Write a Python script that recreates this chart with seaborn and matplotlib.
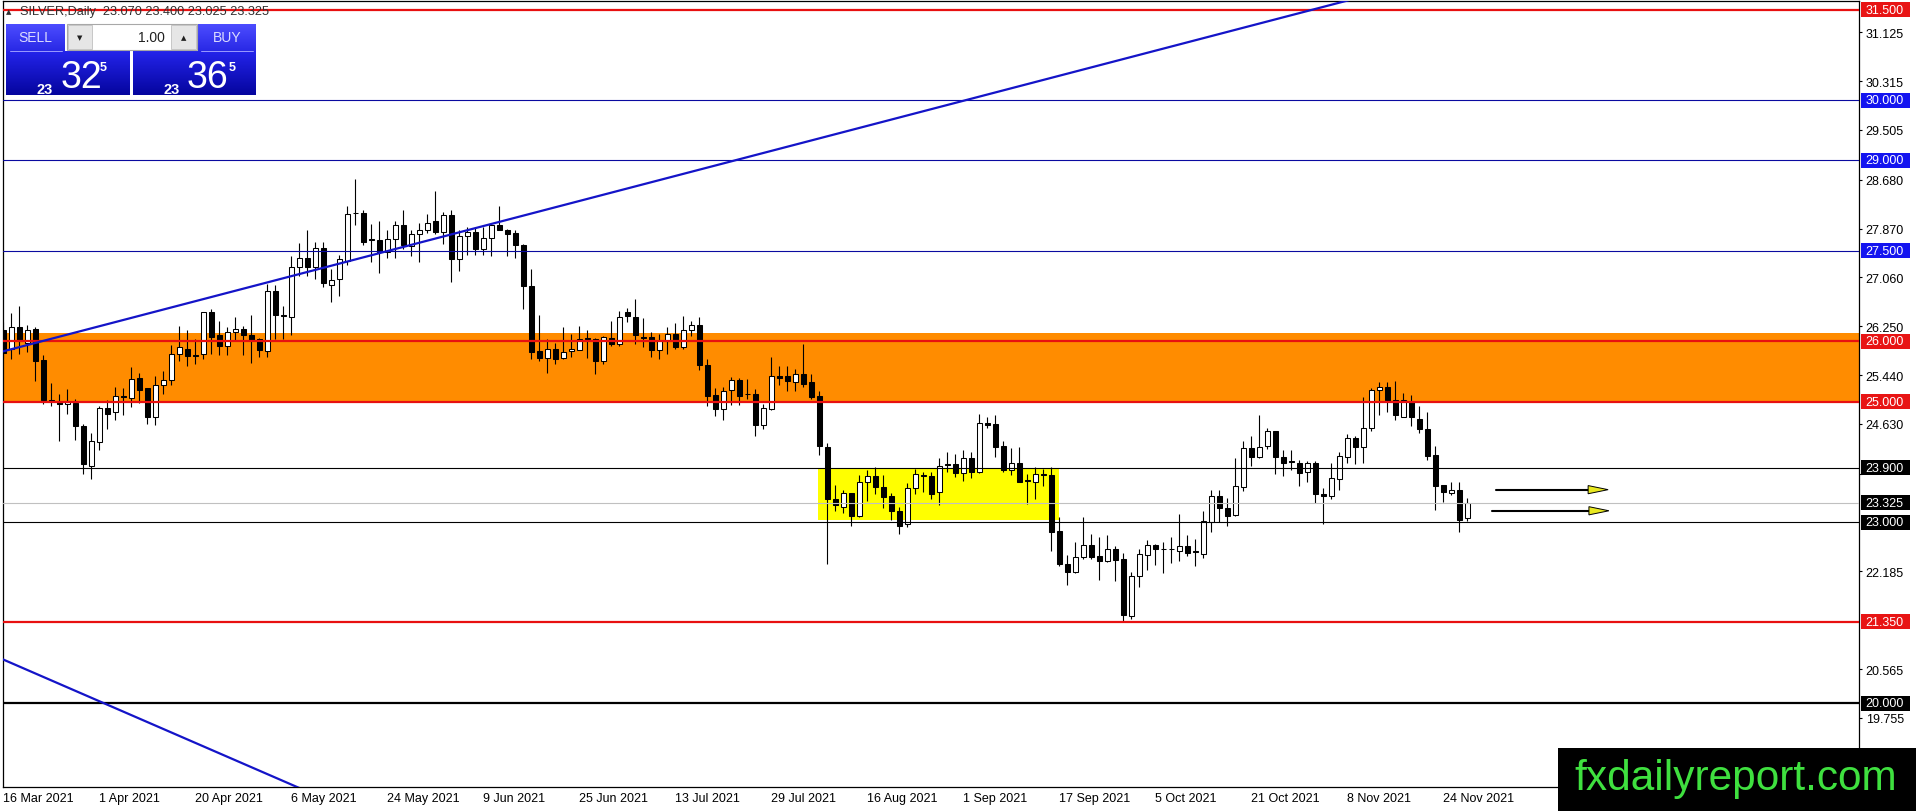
import numpy as np
import pandas as pd
import seaborn as sns
import matplotlib.pyplot as plt
from matplotlib.patches import Rectangle, Polygon

# daily bars, one label every 12 bars
date_labels = ["16 Mar 2021", "1 Apr 2021", "20 Apr 2021", "6 May 2021", "24 May 2021",
               "9 Jun 2021", "25 Jun 2021", "13 Jul 2021", "29 Jul 2021", "16 Aug 2021",
               "1 Sep 2021", "17 Sep 2021", "5 Oct 2021", "21 Oct 2021", "8 Nov 2021",
               "24 Nov 2021"]

opens = [26.18, 25.87, 26.23, 25.98, 26.20, 25.69, 25.03, 24.99, 24.96, 24.98,
         24.59, 23.94, 24.33, 24.90, 24.82, 25.09, 25.06, 25.39, 25.22, 24.74,
         25.27, 25.36, 25.79, 25.87, 25.78, 25.79, 26.48, 26.10, 25.92, 26.15,
         26.21, 26.10, 26.04, 25.84, 26.84, 26.44, 26.40, 27.23, 27.38, 27.23,
         27.54, 26.94, 27.03, 27.34, 28.12, 28.13, 27.70, 27.68, 27.48, 27.69,
         27.93, 27.58, 27.78, 27.85, 27.99, 27.82, 28.10, 27.36, 27.74, 27.82,
         27.53, 27.71, 27.93, 27.85, 27.80, 27.60, 26.91, 25.84, 25.72, 25.88,
         25.73, 25.84, 25.86, 26.04, 26.04, 25.68, 26.05, 25.95, 26.48, 26.40,
         26.08, 26.07, 25.86, 26.01, 26.12, 25.91, 26.18, 26.27, 25.61, 25.11,
         24.87, 25.19, 25.36, 25.12, 25.12, 24.62, 24.87, 25.43, 25.42, 25.32,
         25.45, 25.32, 25.09, 24.24, 23.38, 23.26, 23.48, 23.10, 23.66, 23.76,
         23.58, 23.43, 23.18, 22.97, 23.56, 23.78, 23.76, 23.50, 23.95, 23.96,
         23.82, 24.06, 23.84, 24.64, 24.63, 24.26, 23.87, 23.98, 23.70, 23.67,
         23.78, 23.78, 22.86, 22.31, 22.18, 22.42, 22.62, 22.44, 22.35, 22.56,
         22.39, 21.45, 22.10, 22.46, 22.62, 22.55, 22.55, 22.53, 22.60, 22.52,
         22.47, 23.01, 23.44, 23.24, 23.12, 23.59, 24.23, 24.09, 24.26, 24.51,
         24.09, 24.00, 23.99, 23.83, 23.98, 23.46, 23.44, 23.72, 24.08, 24.39,
         24.24, 24.57, 25.19, 25.25, 25.02, 24.75, 24.99, 24.72, 24.55, 24.12,
         23.61, 23.49, 23.53, 23.07]

highs = [26.32, 26.47, 26.59, 26.27, 26.23, 25.77, 25.31, 25.13, 25.21, 25.05,
         24.63, 24.48, 24.93, 25.03, 25.24, 25.22, 25.57, 25.47, 25.23, 25.42,
         25.51, 25.94, 26.26, 26.18, 26.04, 26.49, 26.54, 26.34, 26.23, 26.40,
         26.26, 26.43, 26.05, 26.95, 26.93, 26.59, 27.41, 27.63, 27.84, 27.64,
         27.64, 27.20, 27.43, 28.25, 28.69, 28.17, 27.95, 28.00, 27.84, 27.99,
         28.17, 27.85, 27.97, 28.11, 28.50, 28.15, 28.18, 27.84, 27.89, 27.89,
         27.89, 27.97, 28.25, 27.86, 27.84, 27.61, 27.20, 26.44, 26.04, 25.98,
         26.23, 26.12, 26.25, 26.18, 26.05, 26.09, 26.34, 26.51, 26.56, 26.71,
         26.38, 26.16, 26.12, 26.23, 26.30, 26.42, 26.33, 26.40, 25.71, 25.22,
         25.25, 25.41, 25.39, 25.38, 25.21, 24.96, 25.74, 25.59, 25.59, 25.54,
         25.96, 25.46, 25.17, 24.31, 23.61, 23.54, 23.49, 23.78, 23.86, 23.91,
         23.78, 23.48, 23.26, 23.65, 23.89, 23.84, 23.84, 24.06, 24.16, 24.13,
         24.20, 24.17, 24.80, 24.74, 24.77, 24.35, 24.23, 24.24, 23.80, 23.91,
         23.88, 23.91, 23.08, 22.46, 22.67, 23.08, 22.81, 22.75, 22.78, 22.61,
         22.49, 22.18, 22.55, 22.71, 22.64, 22.68, 22.76, 23.14, 22.78, 22.72,
         23.18, 23.54, 23.54, 23.40, 24.06, 24.35, 24.43, 24.78, 24.57, 24.52,
         24.19, 24.19, 24.03, 24.02, 24.02, 23.56, 23.98, 24.16, 24.46, 24.43,
         25.08, 25.22, 25.32, 25.33, 25.34, 25.14, 25.11, 24.92, 24.83, 24.26,
         23.62, 23.67, 23.66, 23.40]

lows = [25.72, 25.70, 25.79, 25.82, 25.35, 24.96, 24.92, 24.34, 24.80, 24.37,
        23.80, 23.71, 24.19, 24.54, 24.70, 24.78, 24.91, 24.98, 24.63, 24.61,
        25.13, 25.27, 25.68, 25.59, 25.63, 25.70, 25.79, 25.77, 25.77, 26.00,
        25.77, 25.64, 25.74, 25.74, 26.04, 26.04, 26.11, 27.08, 27.09, 27.03,
        26.90, 26.66, 26.76, 27.27, 27.93, 27.59, 27.31, 27.13, 27.38, 27.38,
        27.53, 27.42, 27.32, 27.80, 27.78, 27.61, 26.98, 27.16, 27.43, 27.43,
        27.43, 27.41, 27.84, 27.41, 27.38, 26.54, 25.70, 25.68, 25.48, 25.62,
        25.71, 25.74, 25.85, 25.72, 25.46, 25.62, 25.93, 25.92, 26.32, 25.96,
        25.90, 25.74, 25.71, 25.79, 25.87, 25.88, 26.09, 25.53, 24.93, 24.76,
        24.69, 24.94, 24.94, 25.04, 24.43, 24.54, 24.86, 25.28, 25.18, 25.18,
        25.25, 25.04, 24.12, 22.30, 23.18, 23.15, 22.94, 23.08, 23.36, 23.47,
        23.23, 23.03, 22.81, 22.92, 23.47, 23.50, 23.38, 23.28, 23.84, 23.75,
        23.69, 23.73, 23.82, 24.57, 24.09, 23.84, 23.78, 23.66, 23.30, 23.38,
        23.60, 22.53, 22.27, 21.96, 22.16, 22.39, 22.39, 22.05, 22.34, 22.03,
        21.37, 21.40, 21.93, 22.21, 22.29, 22.16, 22.33, 22.36, 22.44, 22.28,
        22.40, 22.83, 23.01, 22.94, 23.10, 23.51, 23.94, 24.06, 24.22, 23.80,
        23.77, 23.87, 23.60, 23.67, 23.32, 22.97, 23.39, 23.54, 23.98, 23.96,
        23.99, 24.52, 24.78, 24.83, 24.70, 24.74, 24.60, 24.48, 24.04, 23.21,
        23.33, 23.45, 22.84, 23.025]

closes = [25.80, 26.23, 26.01, 26.18, 25.68, 25.02, 25.01, 24.96, 24.99, 24.59,
          23.96, 24.34, 24.90, 24.80, 25.09, 25.07, 25.38, 25.20, 24.74, 25.27,
          25.36, 25.79, 25.90, 25.75, 25.76, 26.48, 26.08, 25.93, 26.16, 26.21,
          26.11, 26.03, 25.85, 26.84, 26.43, 26.42, 27.23, 27.38, 27.24, 27.54,
          26.96, 27.02, 27.37, 28.11, 28.11, 27.65, 27.68, 27.48, 27.70, 27.93,
          27.59, 27.78, 27.85, 27.96, 27.82, 28.10, 27.37, 27.74, 27.82, 27.53,
          27.71, 27.93, 27.85, 27.78, 27.59, 26.91, 25.83, 25.73, 25.88, 25.71,
          25.82, 25.87, 26.04, 26.03, 25.68, 26.07, 25.96, 26.40, 26.42, 26.11,
          26.06, 25.85, 26.01, 26.12, 25.91, 26.19, 26.27, 25.60, 25.10, 24.87,
          25.18, 25.36, 25.10, 25.11, 24.62, 24.89, 25.43, 25.40, 25.34, 25.45,
          25.29, 25.07, 24.26, 23.38, 23.28, 23.48, 23.11, 23.66, 23.76, 23.58,
          23.42, 23.18, 22.94, 23.56, 23.80, 23.76, 23.47, 23.94, 23.94, 23.81,
          24.06, 23.83, 24.65, 24.62, 24.24, 23.86, 23.98, 23.67, 23.68, 23.80,
          23.77, 22.83, 22.31, 22.18, 22.42, 22.62, 22.43, 22.35, 22.56, 22.38,
          21.46, 22.10, 22.47, 22.62, 22.56, 22.54, 22.54, 22.60, 22.49, 22.50,
          23.02, 23.44, 23.23, 23.11, 23.60, 24.23, 24.09, 24.24, 24.51, 24.09,
          23.98, 23.99, 23.81, 23.98, 23.46, 23.44, 23.73, 24.10, 24.39, 24.24,
          24.57, 25.19, 25.25, 25.02, 24.77, 25.02, 24.74, 24.54, 24.10, 23.60,
          23.50, 23.54, 23.04, 23.325]

price_ticks = [31.125, 30.315, 29.505, 28.680, 27.870, 27.060, 26.250, 25.440,
               24.630, 23.805, 22.185, 20.565, 19.755]
# 23.805 sits behind the 23.900 label box, so only its tick mark is drawn
hidden_ticks = [23.805]

red_levels = [31.5, 26.0, 25.0, 21.35]
blue_levels = [30.0, 29.0, 27.5]
black_levels = [23.9, 23.0]
round_level = 20.0
bid_price = 23.325

orange_zone = (25.0, 26.13)
yellow_zone_bars = (101.8, 132.0)
yellow_zone_prices = (23.03, 23.90)

trend_up_x = [-1, 170]
trend_up_y = [25.80, 31.72]
trend_down_x = [-1, 40]
trend_down_y = [20.78, 18.42]

arrow_x = [(186.6, 200.6), (186.1, 200.7)]
arrow_y = [23.54, 23.19]

title_text = "SILVER,Daily  23.070 23.400 23.025 23.325"
sell_quote = ("23", "32", "5")
buy_quote = ("23", "36", "5")
lot_size = "1.00"

df = pd.DataFrame({"open": opens, "high": highs, "low": lows, "close": closes})
df["bar"] = np.arange(len(df))
df["up"] = df["close"] >= df["open"]

sns.set_style("white")
plt.rcParams["font.family"] = ["Liberation Sans", "DejaVu Sans"]

W, H = 1916, 812
fig = plt.figure(figsize=(W / 100, H / 100), dpi=100)
fig.patch.set_facecolor("white")

# plot area in pixels: x 2.7..1859, y 1.7..788
ax = fig.add_axes([2.7 / W, (H - 788) / H, (1859 - 2.7) / W, (788 - 1.7) / H])
ax.set_xlim(-0.075, 231.96)
ax.set_ylim(18.609, 31.649)
ax.set_facecolor("white")
for s in ax.spines.values():
    s.set_color("black")
    s.set_linewidth(0.9)

# background zones
ax.axhspan(*orange_zone, color="#FF8C00", lw=0, zorder=1)
ax.add_patch(Rectangle((yellow_zone_bars[0], yellow_zone_prices[0]),
                       yellow_zone_bars[1] - yellow_zone_bars[0],
                       yellow_zone_prices[1] - yellow_zone_prices[0],
                       facecolor="#FFFF00", lw=0, zorder=2))

# candles
ax.vlines(df["bar"], df["low"], df["high"], color="black", lw=0.8, zorder=4)
body = (df["close"] - df["open"]).where(lambda v: v.abs() > 0.012, 0.012)
ax.bar(df["bar"], body, bottom=df["open"], width=0.56,
       color=np.where(df["up"], "white", "black"), edgecolor="black",
       linewidth=0.75, zorder=5)

# horizontal levels
for lv in red_levels:
    ax.axhline(lv, color="#E81010", lw=1.6, zorder=6)
for lv in blue_levels:
    ax.axhline(lv, color="#0A0AA0", lw=0.8, zorder=6)
for lv in black_levels:
    ax.axhline(lv, color="black", lw=0.8, zorder=6)
ax.axhline(round_level, color="black", lw=1.6, zorder=6)
ax.axhline(bid_price, color="#C0C0C0", lw=0.8, zorder=6)

# trend lines
sns.lineplot(x=trend_up_x, y=trend_up_y, ax=ax, color="#1414C8", lw=1.6, zorder=7)
sns.lineplot(x=trend_down_x, y=trend_down_y, ax=ax, color="#1414C8", lw=1.6, zorder=7)

# arrows
for (x0, x1), yv in zip(arrow_x, arrow_y):
    ax.plot([x0, x1 - 2.3], [yv, yv], color="black", lw=1.5, zorder=8)
    ax.add_patch(Polygon([[x1 - 2.5, yv + 0.068], [x1, yv], [x1 - 2.5, yv - 0.068]],
                         closed=True, facecolor="#E8E820", edgecolor="black",
                         lw=0.7, zorder=9))

# axes ticks
ax.yaxis.tick_right()
ax.set_yticks(price_ticks)
ax.set_yticklabels(["" if v in hidden_ticks else f"{v:.3f}" for v in price_ticks])
ax.tick_params(axis="y", which="both", right=True, left=False, length=2.2,
               width=0.8, pad=2.6, labelsize=9, colors="black")
ax.set_xticks(np.arange(0, 12 * len(date_labels), 12))
ax.set_xticklabels(date_labels, ha="left")
ax.tick_params(axis="x", length=2.2, width=0.8, pad=1.5, labelsize=9, colors="black")
ax.set_xlabel("")
ax.set_ylabel("")

# coloured price labels on the right scale
tr = ax.get_yaxis_transform()
box_h = 15 / 60.3
level_boxes = ([(v, "#E81414") for v in red_levels] +
               [(v, "#1414F0") for v in blue_levels] +
               [(v, "black") for v in black_levels + [round_level, bid_price]])
for lv, col in level_boxes:
    ax.add_patch(Rectangle((1.0011, lv - box_h / 2), 0.0264, box_h, transform=tr,
                           facecolor=col, lw=0, clip_on=False, zorder=20))
    ax.text(1.0036, lv, f"{lv:.3f}", transform=tr, color="white", fontsize=9,
            va="center", ha="left", clip_on=False, zorder=21)

# overlay in pixel coordinates: trade panel and watermark
ov = fig.add_axes([0, 0, 1, 1], zorder=30)
ov.patch.set_alpha(0)
ov.axis("off")


def grad_box(x0, x1, y0, y1, top, bottom):
    g = np.linspace(0, 1, 50)[:, None, None]
    img = (1 - g) * np.array(top)[None, None, :] + g * np.array(bottom)[None, None, :]
    ov.imshow(img, extent=[x0, x1, y1, y0], aspect="auto", origin="upper",
              interpolation="bilinear", zorder=1)


grad_box(6, 65, 25, 52, (0.30, 0.30, 1.0), (0.16, 0.16, 0.90))
grad_box(198, 256, 25, 52, (0.30, 0.30, 1.0), (0.16, 0.16, 0.90))
grad_box(6, 130, 52, 96, (0.14, 0.14, 0.92), (0.02, 0.02, 0.62))
grad_box(133, 256, 52, 96, (0.14, 0.14, 0.92), (0.02, 0.02, 0.62))
ov.plot([10, 62], [51.5, 51.5], color="#9a9aff", lw=0.7, zorder=2)
ov.plot([201, 253], [51.5, 51.5], color="#9a9aff", lw=0.7, zorder=2)

ov.add_patch(Rectangle((67, 25), 130, 26, facecolor="white", edgecolor="#a8a8a8",
                       lw=0.8, zorder=2))
ov.add_patch(Rectangle((68, 26), 24, 24, facecolor="#e6e6e6", edgecolor="#c0c0c0",
                       lw=0.6, zorder=3))
ov.add_patch(Rectangle((171, 26), 25, 24, facecolor="#e6e6e6", edgecolor="#c0c0c0",
                       lw=0.6, zorder=3))
ov.text(80, 38.5, "▼", fontsize=5, ha="center", va="center", color="#202020",
        family=["DejaVu Sans"], zorder=4)
ov.text(183.5, 38, "▲", fontsize=5, ha="center", va="center", color="#202020",
        family=["DejaVu Sans"], zorder=4)
ov.text(165, 38.5, lot_size, fontsize=10, ha="right", va="center", color="#202020", zorder=4)
ov.text(35.5, 38.5, "SELL", fontsize=10, ha="center", va="center", color="#dcdcff", zorder=4)
ov.text(227, 38.5, "BUY", fontsize=10, ha="center", va="center", color="#dcdcff", zorder=4)

for (small, big, sup), xs, xb, xp in [(sell_quote, 37, 61, 100), (buy_quote, 164, 187, 229)]:
    ov.text(xs, 93.5, small, fontsize=10.5, fontweight="bold", color="white",
            ha="left", va="baseline", zorder=4)
    ov.text(xb, 88.5, big, fontsize=27, color="white", ha="left", va="baseline", zorder=4)
    ov.text(xp, 71, sup, fontsize=9, fontweight="bold", color="white",
            ha="left", va="baseline", zorder=4)

ov.text(6, 12.5, "▲", fontsize=5, color="#303030", ha="left", va="center",
        family=["DejaVu Sans"], zorder=4)
ov.text(20, 12.5, title_text, fontsize=9.2, color="#303030", ha="left", va="center", zorder=4)

ov.add_patch(Rectangle((1558, 749), W - 1558, H - 749, facecolor="black", lw=0, zorder=5))
ov.text(1736, 790, "fxdailyreport.com", fontsize=30.5, color="#3FE03F",
        ha="center", va="baseline", zorder=6)

ov.set_xlim(0, W)
ov.set_ylim(H, 0)

plt.savefig("out.png", dpi=100)
